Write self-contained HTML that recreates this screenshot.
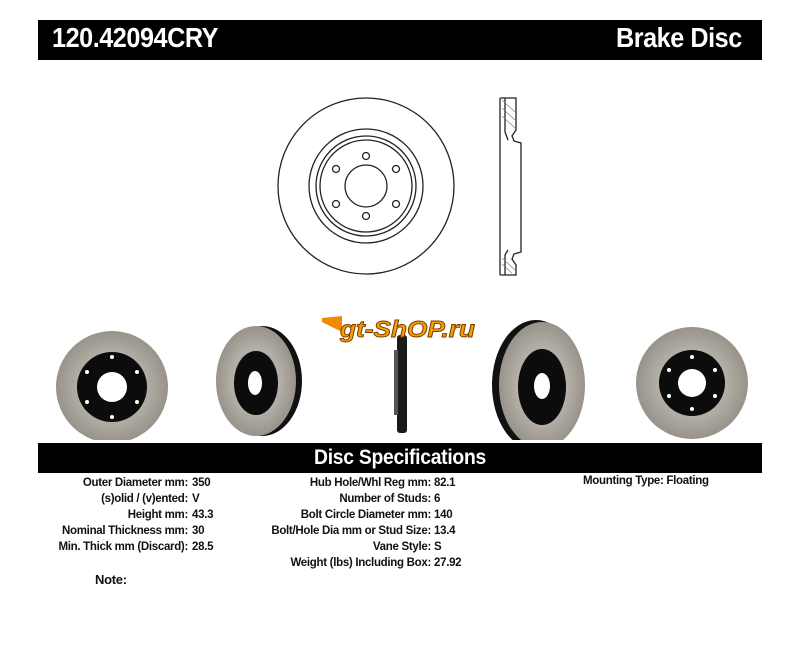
<!DOCTYPE html>
<html><head><style>
body{margin:0;background:#fff;width:800px;height:655px;position:relative;overflow:hidden;font-family:"Liberation Sans",Arial,sans-serif}
.bar{position:absolute;background:#000;color:#fff;font-weight:bold}
.t{position:absolute;font-weight:bold;font-size:11.5px;color:#111;white-space:nowrap;letter-spacing:-0.3px}
.r{text-align:right}
</style></head><body>
<div class="bar" style="left:38px;top:20px;width:724px;height:40px"></div>
<div class="t" style="left:52px;top:22px;font-size:28px;color:#fff;letter-spacing:-0.5px;transform:scaleX(0.9);transform-origin:left">120.42094CRY</div>
<div class="t" style="right:58px;top:22px;font-size:28px;color:#fff;letter-spacing:-0.5px;transform:scaleX(0.9);transform-origin:right">Brake Disc</div>

<svg style="position:absolute;left:0;top:0" width="800" height="440">
<g fill="none" stroke="#222" stroke-width="1.3">
<circle cx="366" cy="186" r="88"/>
<circle cx="366" cy="186" r="57"/>
<circle cx="366" cy="186" r="50"/>
<circle cx="366" cy="186" r="46"/>
<circle cx="366" cy="186" r="21"/>
<circle cx="366" cy="156" r="3.5"/><circle cx="366" cy="216" r="3.5"/>
<circle cx="336" cy="169" r="3.5"/><circle cx="396" cy="169" r="3.5"/>
<circle cx="336" cy="204" r="3.5"/><circle cx="396" cy="204" r="3.5"/>
<path d="M500 98 V275 M500 98 H516 V130 L512 136 L514 141 L521 143 V252 L514 254 L512 259 L516 265 V275 H500"/>
<path d="M505 98 V132 L508 140 M505 275 V255 L508 250"/>
</g>
<g stroke="#777" stroke-width="0.6">
<path d="M502 100 L515 112 M502 108 L515 120 M502 116 L515 128 M502 258 L515 270 M502 264 L512 273"/>
</g>
<defs><radialGradient id="g" cx="50%" cy="50%" r="50%"><stop offset="0.6" stop-color="#b4afa6"/><stop offset="1" stop-color="#98938a"/></radialGradient></defs>
<circle cx="112" cy="387" r="56" fill="url(#g)"/>
<circle cx="112" cy="387" r="35" fill="#0c0c0c"/>
<circle cx="112" cy="387" r="15" fill="#fff"/>
<ellipse cx="262" cy="381" rx="40" ry="55" fill="#111"/>
<ellipse cx="256" cy="381" rx="40" ry="55" fill="url(#g)"/>
<ellipse cx="256" cy="383" rx="22" ry="32" fill="#0c0c0c"/>
<ellipse cx="255" cy="383" rx="7" ry="12" fill="#fff"/>
<rect x="397" y="335" width="10" height="98" fill="#1a1a1a" rx="3"/>
<rect x="394" y="350" width="4" height="65" fill="#555"/>
<ellipse cx="536" cy="385" rx="44" ry="65" fill="#111"/>
<ellipse cx="542" cy="385" rx="43" ry="63" fill="url(#g)"/>
<ellipse cx="542" cy="387" rx="24" ry="38" fill="#0c0c0c"/>
<ellipse cx="542" cy="386" rx="8" ry="13" fill="#fff"/>
<circle cx="692" cy="383" r="56" fill="url(#g)"/>
<circle cx="692" cy="383" r="33" fill="#0c0c0c"/>
<circle cx="692" cy="383" r="14" fill="#fff"/>
<g fill="#fff">
<circle cx="112" cy="357" r="2"/><circle cx="112" cy="417" r="2"/><circle cx="87" cy="372" r="2"/><circle cx="137" cy="372" r="2"/><circle cx="87" cy="402" r="2"/><circle cx="137" cy="402" r="2"/>
<circle cx="692" cy="357" r="2"/><circle cx="692" cy="409" r="2"/><circle cx="669" cy="370" r="2"/><circle cx="715" cy="370" r="2"/><circle cx="669" cy="396" r="2"/><circle cx="715" cy="396" r="2"/>
</g>
<polygon points="322,318 342,316 342,332 322,322" fill="#f08a00"/>
<text x="340" y="337" font-family="Liberation Sans" font-weight="bold" font-style="italic" font-size="23" fill="#f5a000" stroke="#7a3a00" stroke-width="0.9" textLength="135" lengthAdjust="spacingAndGlyphs">gt-ShOP.ru</text>
</svg>

<div class="bar" style="left:38px;top:443px;width:724px;height:30px"></div>
<div class="t" style="left:0;width:800px;top:446px;text-align:center;font-size:21px;color:#fff;transform:scaleX(0.92)">Disc Specifications</div>

<div class="t r" style="right:612px;top:475px;line-height:16px">Outer Diameter mm:<br>(s)olid / (v)ented:<br>Height mm:<br>Nominal Thickness mm:<br>Min. Thick mm (Discard):</div>
<div class="t" style="left:192px;top:475px;line-height:16px">350<br>V<br>43.3<br>30<br>28.5</div>
<div class="t r" style="right:369px;top:475px;line-height:16px">Hub Hole/Whl Reg mm:<br>Number of Studs:<br>Bolt Circle Diameter mm:<br>Bolt/Hole Dia mm or Stud Size:<br>Vane Style:<br>Weight (lbs) Including Box:</div>
<div class="t" style="left:434px;top:475px;line-height:16px">82.1<br>6<br>140<br>13.4<br>S<br>27.92</div>
<div class="t" style="left:583px;top:475px">Mounting Type: Floating</div>
<div class="t" style="left:95px;top:572px;font-size:13px">Note:</div>
</body></html>
